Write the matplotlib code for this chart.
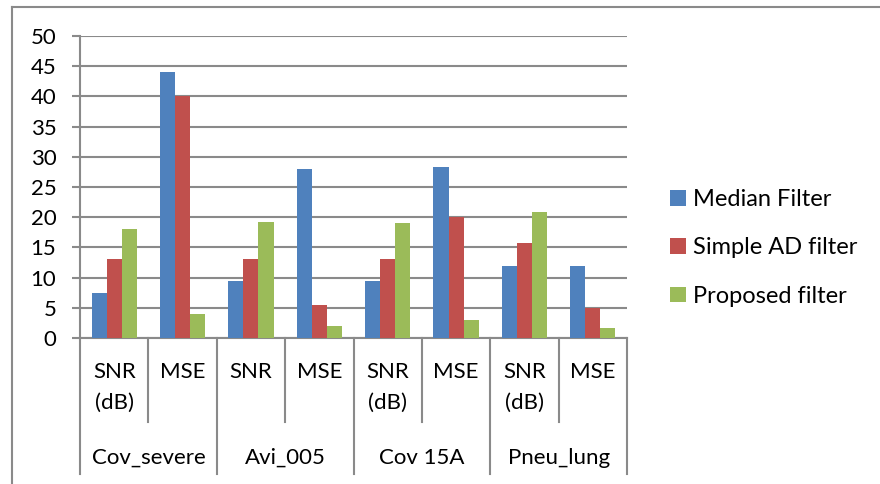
import matplotlib.pyplot as plt
import matplotlib.transforms as mtransforms
from matplotlib.lines import Line2D
from matplotlib.patches import Patch
import numpy as np

GROUPS = ["Cov_severe", "Avi_005", "Cov 15A", "Pneu_lung"]
METRICS = [
    ["SNR\n(dB)", "MSE"],
    ["SNR", "MSE"],
    ["SNR\n(dB)", "MSE"],
    ["SNR\n(dB)", "MSE"],
]
SERIES_NAMES = ["Median Filter", "Simple AD filter", "Proposed filter"]
MEDIAN = [7.5, 44.0, 9.5, 28.0, 9.5, 28.3, 12.0, 12.0]
SIMPLE_AD = [13.0, 40.0, 13.0, 5.5, 13.0, 20.0, 15.8, 5.0]
PROPOSED = [18.0, 3.9, 19.2, 2.0, 19.0, 3.0, 20.9, 1.6]
COLORS = ["#4F81BD", "#C0504D", "#9BBB59"]
Y_TICKS = list(range(0, 51, 5))

W, H = 880, 484
plt.rcParams["font.family"] = ["Lato", "DejaVu Sans"]

fig = plt.figure(figsize=(W / 100, H / 100), dpi=100)
ax = fig.add_axes([80 / W, 1 - 338 / H, (627 - 80) / W, (338 - 36) / H])

n = len(MEDIAN)
x = np.arange(n)
bw = 0.22
for i, (vals, col) in enumerate(zip([MEDIAN, SIMPLE_AD, PROPOSED], COLORS)):
    ax.bar(x + (i - 1) * bw, vals, width=bw, color=col, zorder=3)

grid_col = "#8a8a8a"
ax.set_xlim(-0.5, n - 0.5)
ax.set_ylim(0, 50)
ax.set_yticks(Y_TICKS)
ax.yaxis.grid(True, color=grid_col, lw=1.5, zorder=0)
ax.tick_params(axis="y", length=6, width=1.5, color=grid_col, labelsize=16, pad=11)
ax.set_xticks([])
for side in ["top", "right"]:
    ax.spines[side].set_visible(False)
for side in ["left", "bottom"]:
    ax.spines[side].set_color(grid_col)
    ax.spines[side].set_linewidth(1.5)

# category separators below the axis: short inside a group, long between groups
trans = mtransforms.blended_transform_factory(ax.transData, ax.transAxes)
sep_short = -(422 - 338) / 302
sep_long = -(474 - 338) / 302
for b in range(n + 1):
    pos = b - 0.5
    y_end = sep_long if b % 2 == 0 else sep_short
    ax.add_line(Line2D([pos, pos], [0, y_end], transform=trans, color=grid_col,
                       lw=1.5, clip_on=False))

# metric labels and group labels
k = 0
for g, (grp, mets) in enumerate(zip(GROUPS, METRICS)):
    for m in mets:
        ax.text(k, -(362 - 338) / 302, m, transform=trans, ha="center", va="top",
                fontsize=16, linespacing=1.65)
        k += 1
    ax.text(2 * g + 0.5, -(458 - 338) / 302, grp, transform=trans, ha="center",
            va="center", fontsize=16)

# legend
handles = [Patch(facecolor=c, edgecolor="none") for c in COLORS]
fig.legend(handles, SERIES_NAMES, loc="center left",
           bbox_to_anchor=(661 / W, 1 - 248 / H), frameon=False, fontsize=17,
           handlelength=0.64, handleheight=0.64, handletextpad=0.3,
           labelspacing=1.16, borderaxespad=0)

# chart area border (only top and left edges fall inside the image)
fig.add_artist(Line2D([11.5 / W, 11.5 / W], [0, 1 - 6.5 / H], color=grid_col, lw=1.5))
fig.add_artist(Line2D([11.5 / W, 1], [1 - 6.5 / H, 1 - 6.5 / H], color=grid_col, lw=1.5))

fig.savefig("out.png", dpi=100)
